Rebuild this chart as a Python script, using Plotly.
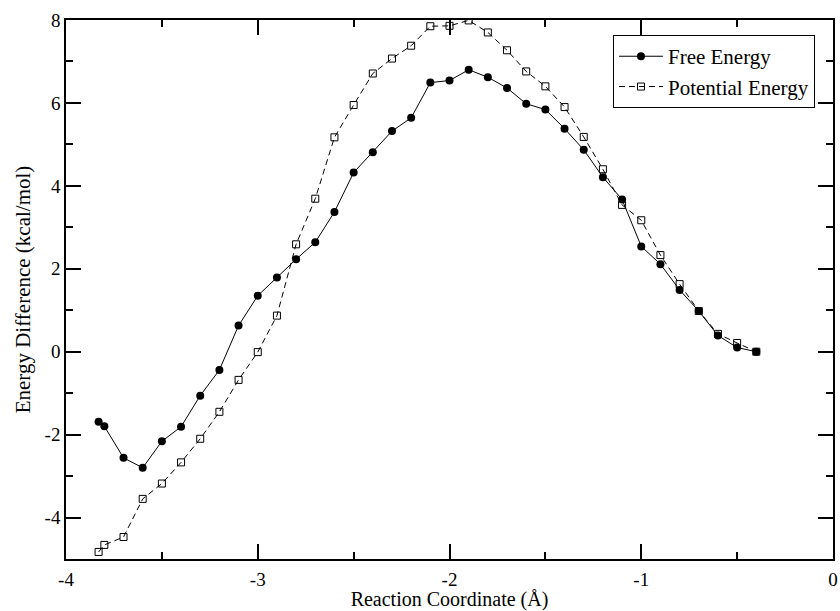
import plotly.graph_objects as go

x_vals = [-3.83, -3.8, -3.7, -3.6, -3.5, -3.4, -3.3, -3.2, -3.1, -3.0, -2.9, -2.8, -2.7, -2.6,
          -2.5, -2.4, -2.3, -2.2, -2.1, -2.0, -1.9, -1.8, -1.7, -1.6, -1.5, -1.4, -1.3, -1.2,
          -1.1, -1.0, -0.9, -0.8, -0.7, -0.6, -0.5, -0.4]
free_energy = [-1.69, -1.80, -2.56, -2.80, -2.16, -1.81, -1.06, -0.44, 0.63, 1.35, 1.79, 2.23,
               2.64, 3.37, 4.32, 4.81, 5.32, 5.64, 6.49, 6.54, 6.80, 6.62, 6.36, 5.98, 5.84,
               5.38, 4.87, 4.21, 3.67, 2.54, 2.11, 1.49, 0.98, 0.39, 0.10, 0.0]
potential_energy = [-4.83, -4.66, -4.47, -3.55, -3.18, -2.67, -2.10, -1.45, -0.68, -0.01, 0.87,
                    2.59, 3.69, 5.17, 5.95, 6.71, 7.07, 7.38, 7.85, 7.86, 7.99, 7.70, 7.27, 6.76,
                    6.40, 5.90, 5.18, 4.40, 3.54, 3.17, 2.33, 1.63, 0.98, 0.43, 0.21, 0.0]

x_tick_vals = [-4, -3, -2, -1, 0]
x_tick_text = ["-4", "-3", "-2", "-1", "0"]
y_tick_vals = [-4, -2, 0, 2, 4, 6, 8]
y_tick_text = ["-4", "-2", "0", "2", "4", "6", "8"]

FONT = "Liberation Serif"

fig = go.Figure()
fig.add_trace(go.Scatter(
    x=x_vals, y=free_energy, mode="lines+markers", name="Free Energy",
    line=dict(color="black", width=1),
    marker=dict(symbol="circle", size=8, color="black"),
))
fig.add_trace(go.Scatter(
    x=x_vals, y=potential_energy, mode="lines+markers", name="Potential Energy",
    line=dict(color="black", width=1, dash="6px,4px"),
    marker=dict(symbol="square-open", size=7, color="black", line=dict(width=1, color="black")),
))

axis_common = dict(
    showgrid=False, zeroline=False, showline=True, linecolor="black", linewidth=1.5,
    mirror="ticks", ticks="inside", tickcolor="black", tickwidth=1.5, ticklen=15,
    tickfont=dict(family=FONT, size=19, color="black"), automargin=False,
)

fig.update_xaxes(
    range=[-4, 0], tickmode="array", tickvals=x_tick_vals, ticktext=x_tick_text,
    minor=dict(ticks="inside", ticklen=7, tickcolor="black", tickwidth=1.5, dtick=0.5, tick0=-4),
    title=dict(text="Reaction Coordinate (Å)", font=dict(family=FONT, size=20, color="black"), standoff=4),
    ticklabelstandoff=2,
    **axis_common,
)
fig.update_yaxes(
    range=[-5, 8], tickmode="array", tickvals=y_tick_vals, ticktext=y_tick_text,
    minor=dict(ticks="inside", ticklen=7, tickcolor="black", tickwidth=1.5, dtick=1, tick0=-5),
    title=dict(text="Energy Difference (kcal/mol)", font=dict(family=FONT, size=21, color="black"), standoff=8),
    **axis_common,
)

fig.update_layout(
    width=840, height=611,
    margin=dict(l=66, r=7, t=20, b=52),
    plot_bgcolor="white", paper_bgcolor="white",
    font=dict(family=FONT, color="black"),
    showlegend=True,
    legend=dict(
        x=0.9765, y=0.972, xanchor="right", yanchor="top",
        bgcolor="white", bordercolor="black", borderwidth=1,
        font=dict(family=FONT, size=21, color="black"),
        tracegroupgap=0, itemwidth=44,
    ),
)

fig.write_html("out.html")
